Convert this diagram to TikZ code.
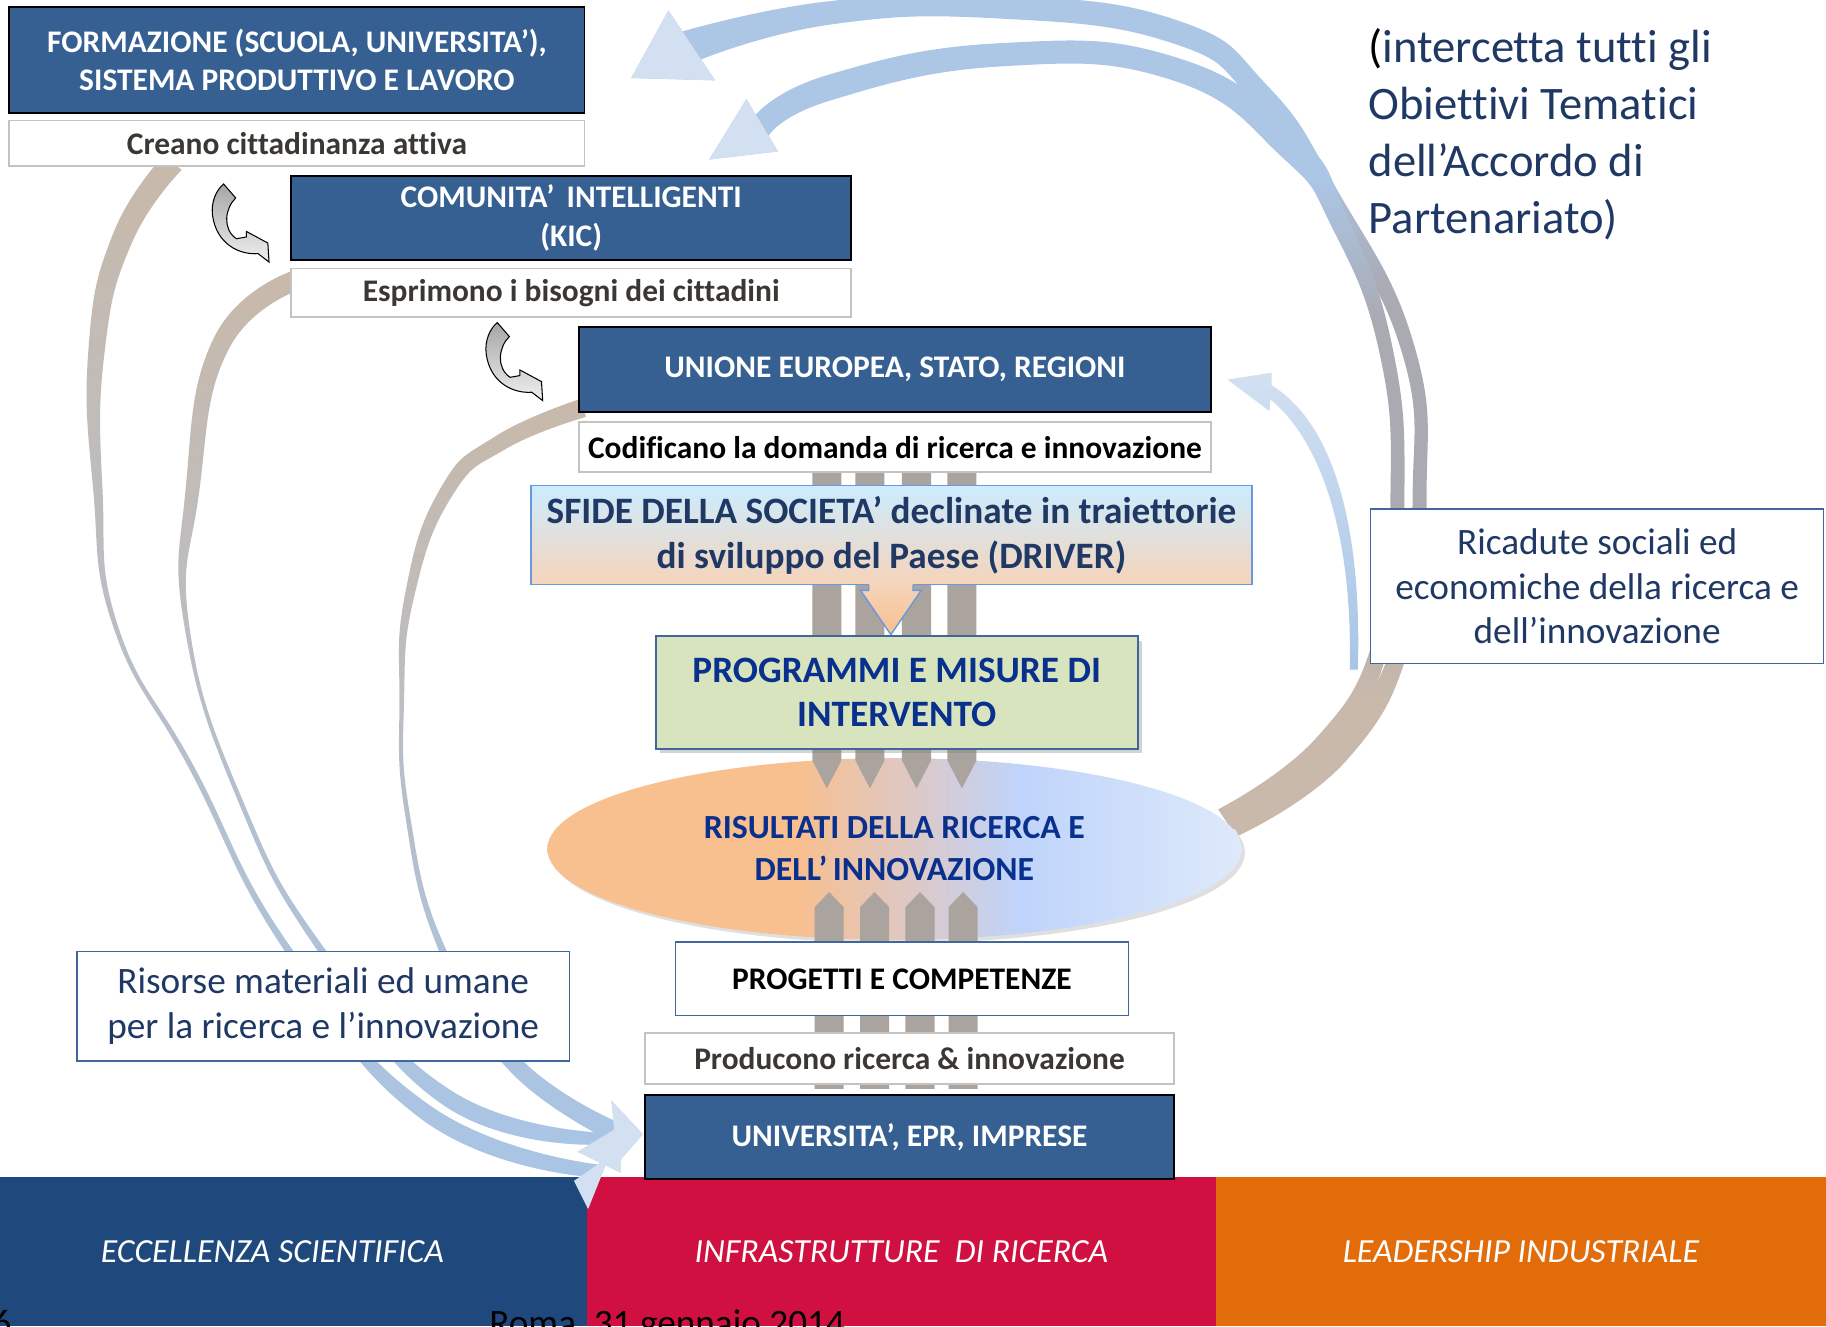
\documentclass[tikz,border=0pt]{standalone}
\usepackage{fontspec}
\setmainfont[Ligatures=NoCommon]{Carlito}
\usetikzlibrary{positioning,shapes.geometric,shadows}

\definecolor{boxblue}{RGB}{54,96,146}
\definecolor{navytext}{RGB}{31,56,100}
\definecolor{progtext}{RGB}{8,48,140}
\definecolor{tagline}{RGB}{195,195,195}
\definecolor{taggray}{RGB}{59,56,52}
\definecolor{thinblue}{RGB}{64,102,158}
\definecolor{sfideline}{RGB}{102,153,222}
\definecolor{sfidetop}{RGB}{204,236,255}
\definecolor{sfidebot}{RGB}{246,212,186}
\definecolor{progfill}{RGB}{215,228,189}
\definecolor{bargray}{RGB}{171,163,157}
\definecolor{ellorange}{RGB}{248,191,143}
\definecolor{ellmid}{RGB}{222,200,196}
\definecolor{ellblue}{RGB}{191,212,251}
\definecolor{ellpale}{RGB}{222,233,250}
\definecolor{ribbrown}{RGB}{200,185,170}
\definecolor{ribgray}{RGB}{170,170,178}
\definecolor{ribblue}{RGB}{168,197,231}
\definecolor{ribtop}{RGB}{172,198,230}
\definecolor{riblight}{RGB}{210,224,241}
\definecolor{bandblue}{RGB}{31,73,125}
\definecolor{bandred}{RGB}{209,16,66}
\definecolor{bandorange}{RGB}{227,108,10}

\pgfdeclarehorizontalshading{risshade}{100bp}{color(0bp)=(ellorange); color(43bp)=(ellorange); color(51bp)=(ellmid); color(59bp)=(ellblue); color(75bp)=(ellpale); color(100bp)=(ellpale)}
\pgfdeclareverticalshading{backrib}{100bp}{color(0bp)=(ribbrown); color(33bp)=(ribbrown); color(44bp)=(ribgray); color(57bp)=(ribgray); color(66bp)=(ribtop); color(100bp)=(ribtop)}

\tikzset{
  darkbox/.style={draw=black, line width=1.5pt, fill=boxblue, text=white, inner sep=0pt, align=center, font=\fontsize{27}{33}\selectfont\bfseries},
  tagbox/.style={draw=tagline, line width=1.5pt, fill=white, text=taggray, inner sep=0pt, font=\fontsize{27}{33}\selectfont\bfseries},
  notebox/.style={draw=thinblue, line width=1.2pt, fill=white, text=navytext, inner sep=0pt, align=center, font=\fontsize{32}{38.5}\selectfont},
  band/.style={inner sep=0pt, minimum height=128pt, text=white, font=\fontsize{29}{35}\selectfont\itshape},
  barfill/.style={fill=bargray},
  ribbon/.style={top color=ribbrown, middle color=ribgray, bottom color=ribblue},
  backribbon/.style={shading=backrib},
  headfill/.style={fill=riblight},
  curly/.style={draw=black, line width=0.9pt, top color=gray!70, bottom color=gray!12}
}

\begin{document}
\begin{tikzpicture}[x=1pt,y=-1pt]
\useasboundingbox (0,0) rectangle (1568,1139);
\clip (0,0) rectangle (1568,1139);

\node[band, fill=bandblue, minimum width=540pt] (exc) at (234,1075) {ECCELLENZA SCIENTIFICA};
\node[band, fill=bandred, minimum width=540pt] (infra) at (774,1075) {INFRASTRUTTURE\ \ DI RICERCA};
\node[band, fill=bandorange, minimum width=524pt] (lead) at (1306,1075) {LEADERSHIP INDUSTRIALE};
\node[anchor=base east, inner sep=0pt, font=\fontsize{32}{38}\selectfont] (pag) at (10,1147) {6};
\node[anchor=base west, inner sep=0pt, font=\fontsize{32}{38}\selectfont] (date) at (420,1147) {Roma, 31 gennaio 2014};

% risorse verso universita
\shade[ribbon] plot[smooth, tension=0.8] coordinates {(139.9,134.2) (96.7,201.6) (76,299.3) (80,420.3) (98.1,540.6) (163,661) (242.5,813.7) (360,959.6) (500,1010)}
  -- (493,1014) -- (505,1038) -- (523,993)
  -- plot[smooth, tension=0.8] coordinates {(514,1000) (368,948.4) (247.5,810.3) (167,659) (101.9,539.4) (88,419.7) (90,300.7) (113.3,208.4) (156.1,145.8)} -- cycle;
\shade[ribbon] plot[smooth, tension=0.8] coordinates {(250,233) (183.6,290.2) (159.3,421.2) (159,541.3) (205.2,689.8) (273.5,817.7) (379,947.8) (507,983)}
  -- (496,989) -- (533,1007) -- (534,966)
  -- plot[smooth, tension=0.8] coordinates {(523,973) (387,936.2) (278.5,814.3) (208.8,688.2) (163,540.7) (170.7,424.8) (196.4,299.8) (262,247)} -- cycle;
\shade[ribbon] plot[smooth, tension=0.8] coordinates {(500,342) (425.8,374.4) (377.9,419.9) (348,509.2) (343,600) (348,700.3) (377.1,816.9) (435.9,917.8) (529,982)}
  -- (530,999) -- (552,974) -- (525,945)
  -- plot[smooth, tension=0.8] coordinates {(527,962) (446.1,908.2) (382.9,815.1) (352,699.7) (347,600) (356,510.8) (388.1,426.1) (434.2,385.6) (503,358)} -- cycle;
\fill[headfill] (493,1014) -- (505,1038) -- (523,993) -- cycle;
\fill[headfill] (496,989) -- (533,1007) -- (534,966) -- cycle;
\fill[headfill] (530,999) -- (552,974) -- (525,945) -- cycle;

% ricadute verso l'alto
\shade[backribbon] plot[smooth, tension=0.8] coordinates {(586,27) (711.6,1.1) (860.5,-4) (1011,17.5) (1088.5,73.8) (1147,161) (1213.7,294.2) (1225,425) (1212.7,547) (1157.3,651.8) (1063.8,717.4)}
  -- plot[smooth, tension=0.8] coordinates {(1052.2,698.6) (1142.7,638.2) (1199.3,543) (1213,425) (1202.3,297.8) (1133,169) (1075.5,86.2) (1005,36.5) (859.5,16) (714.4,20.9) (602,51)}
  -- (614,69) -- (542,67) -- (574,9) -- cycle;
\shade[backribbon] plot[smooth, tension=0.8] coordinates {(649,98.5) (712,64) (860,37) (1009,49) (1113,115) (1156.6,185.6) (1195.7,298.2) (1206,425) (1194.7,547) (1145.3,646.8) (1058,713)}
  -- plot[smooth, tension=0.8] coordinates {(1046,695) (1130.7,633.2) (1181.3,543) (1194,425) (1184.3,301.8) (1143.4,194.4) (1101,135) (1007,69) (860,57) (714,86) (660,116.5)}
  -- (668,130) -- (609,137) -- (641,85) -- cycle;
\fill[headfill] (574,9) -- (542,67) -- (614,69) -- cycle;
\fill[headfill] (641,85) -- (609,137) -- (668,130) -- cycle;
\shade[top color=riblight, bottom color=ribblue] (1092,331) .. controls (1140,360) and (1170,440) .. (1166,575)
  -- (1159,575) .. controls (1162,450) and (1130,375) .. (1091,343)
  -- (1090,353) -- (1054,326) -- (1092,320) -- cycle;

\node[ellipse, minimum width=596pt, minimum height=156pt, inner sep=0pt, shade, shading=risshade,
  drop shadow={opacity=0.25, shadow xshift=3pt, shadow yshift=-3pt},
  text=progtext, align=center, font=\fontsize{29}{36}\selectfont\bfseries] (ris) at (768,729)
  {RISULTATI DELLA RICERCA E\\DELL’\,INNOVAZIONE};

\foreach \a/\b in {710/712, 747/751, 787/790, 826/827}{
  \fill[barfill] (\a-12.5,404) -- (\a+12.5,404) -- (\a+12.5,653) -- (\a,677) -- (\a-12.5,653) -- cycle;
  \fill[barfill] (\b-12.5,935) -- (\b-12.5,779) -- (\b,766) -- (\b+12.5,779) -- (\b+12.5,935) -- cycle;
}

\node[darkbox, minimum width=494pt, minimum height=91pt] (form) at (255,51.5) {FORMAZIONE (SCUOLA, UNIVERSITA’),\\SISTEMA PRODUTTIVO E LAVORO};
\node[tagbox, minimum width=494pt, minimum height=39pt, below=5pt of form] (crea) {Creano cittadinanza attiva};
\node[darkbox, minimum width=481pt, minimum height=72pt] (comu) at (490.5,187) {COMUNITA’\, INTELLIGENTI\\(KIC)};
\node[tagbox, minimum width=481pt, minimum height=42pt, below=6pt of comu] (espr) {Esprimono i bisogni dei cittadini};
\node[darkbox, minimum width=543pt, minimum height=73pt] (unio) at (768.5,317.5) {UNIONE EUROPEA, STATO, REGIONI};
\node[tagbox, text=black, minimum width=543pt, minimum height=43pt, below=7pt of unio] (codi) {Codificano la domanda di ricerca e innovazione};

\node[draw=sfideline, line width=1.2pt, top color=sfidetop, bottom color=sfidebot, minimum width=619pt, minimum height=85pt,
  inner sep=0pt, align=center, text=navytext, font=\fontsize{32}{39}\selectfont\bfseries] (sfide) at (765.5,459.5)
  {SFIDE DELLA SOCIETA’ declinate in traiettorie\\di sviluppo del Paese (DRIVER)};
\shade[top color=sfidebot, bottom color=ellorange] (746,501) -- (746,507) -- (739,507) -- (765,545) -- (791,507) -- (784,507) -- (784,501) -- cycle;
\draw[sfideline, line width=1.2pt] (746,502) -- (746,507) -- (739,507) -- (765,545) -- (791,507) -- (784,507) -- (784,502);

\node[draw=thinblue, line width=1.5pt, fill=progfill, minimum width=414pt, minimum height=97pt, inner sep=0pt,
  drop shadow={opacity=0.35, shadow xshift=4pt, shadow yshift=-4pt},
  align=center, text=progtext, font=\fontsize{32}{38}\selectfont\bfseries] (prog) at (770,594.5)
  {PROGRAMMI E MISURE DI\\INTERVENTO};

\node[draw=thinblue, line width=1.5pt, fill=white, minimum width=389pt, minimum height=63pt, inner sep=0pt,
  font=\fontsize{27}{33}\selectfont\bfseries] (proj) at (774.5,840.5) {PROGETTI E COMPETENZE};
\node[tagbox, minimum width=454pt, minimum height=44pt] (prod) at (781,909) {Producono ricerca \& innovazione};
\node[darkbox, minimum width=454pt, minimum height=72pt, below=8pt of prod] (univ) {UNIVERSITA’, EPR, IMPRESE};

\node[notebox, minimum width=389pt, minimum height=133pt] (rica) at (1371.5,503.5) {Ricadute sociali ed\\economiche della ricerca e\\dell’innovazione};
\node[notebox, minimum width=423pt, minimum height=94pt] (riso) at (277.5,864) {Risorse materiali ed umane\\per la ricerca e l’innovazione};
\node[anchor=north west, inner sep=0pt, align=left, text=navytext, font=\fontsize{40}{49}\selectfont] (obj) at (1175,24)
  {\textcolor{black}{(}intercetta tutti gli\\Obiettivi Tematici\\dell’Accordo di\\Partenariato)};

\foreach \tx/\ty in {231/225, 466/344}{
  \begin{scope}[shift={(\tx,\ty)}]
    \shade[curly] (-39,-67) -- (-28.6,-55) .. controls (-38,-46) and (-40,-28) .. (-28,-20)
      -- (-19.5,-21.5) -- (-19.5,-26.3) -- (-1,-16.3) -- (0,0) -- (-9.4,-7.2)
      .. controls (-25,-6) and (-45,-15) .. (-48.5,-40) .. controls (-50,-52) and (-45,-62) .. (-39,-67) -- cycle;
  \end{scope}
}
\end{tikzpicture}
\end{document}
